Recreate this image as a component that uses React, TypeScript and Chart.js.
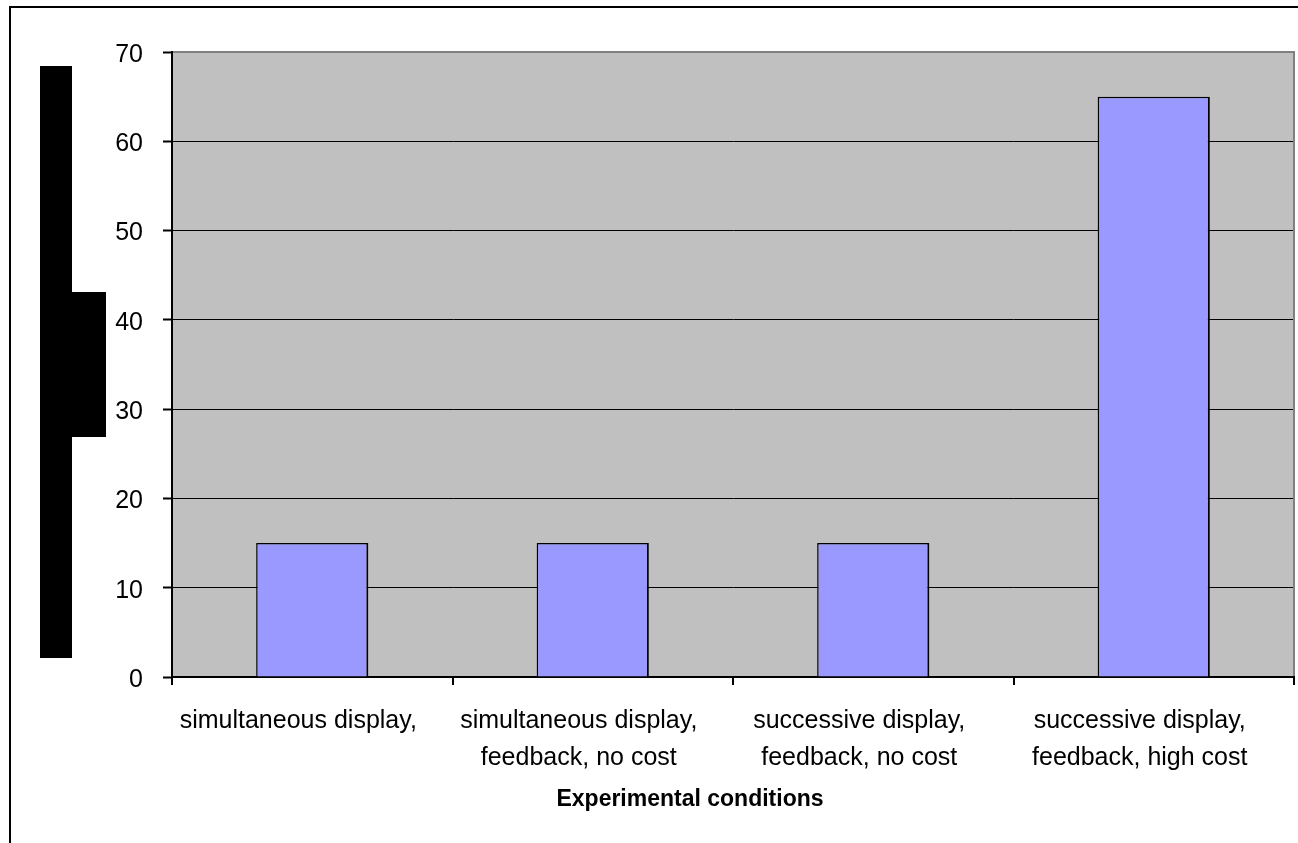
import React, { useEffect, useRef } from "react";
import { Chart, registerables } from "chart.js";

Chart.register(...registerables);

const categories: string[][] = [
  ["simultaneous display,"],
  ["simultaneous display,", "feedback, no cost"],
  ["successive display,", "feedback, no cost"],
  ["successive display,", "feedback, high cost"],
];
const values: number[] = [15, 15, 15, 65];
const yMin = 0;
const yMax = 70;
const yStep = 10;
const xTitle = "Experimental conditions";

const FONT = "'Liberation Sans', Arial, sans-serif";

const decor = {
  id: "decor",
  beforeDraw(chart: any) {
    const { ctx, chartArea: a } = chart;
    ctx.save();
    ctx.fillStyle = "#ffffff";
    ctx.fillRect(0, 0, chart.width, chart.height);
    ctx.fillStyle = "#C0C0C0";
    ctx.fillRect(a.left, a.top, a.right - a.left, a.bottom - a.top);
    // outer frame (top and left visible)
    ctx.strokeStyle = "#000000";
    ctx.lineWidth = 2;
    ctx.strokeRect(10, 7, chart.width + 20, chart.height + 20);
    // y-axis title rendered as a black block in the reference
    ctx.fillStyle = "#000000";
    ctx.fillRect(40, 66, 32, 592);
    ctx.fillRect(72, 292, 34, 145);
    ctx.restore();
  },
  afterDatasetsDraw(chart: any) {
    const { ctx, chartArea: a } = chart;
    ctx.save();
    ctx.strokeStyle = "#808080";
    ctx.lineWidth = 2;
    ctx.beginPath();
    ctx.moveTo(a.left + 1, a.top);
    ctx.lineTo(a.right, a.top);
    ctx.lineTo(a.right, a.bottom - 1);
    ctx.stroke();
    ctx.restore();
  },
  afterDraw(chart: any) {
    const { ctx, chartArea: a } = chart;
    ctx.save();
    ctx.fillStyle = "#000000";
    ctx.font = `bold 23px ${FONT}`;
    ctx.textAlign = "center";
    ctx.textBaseline = "middle";
    ctx.fillText(xTitle, (a.left + a.right) / 2 - 43, 800);
    ctx.restore();
  },
};

export default function App() {
  const ref = useRef<HTMLCanvasElement | null>(null);
  useEffect(() => {
    if (!ref.current) return;
    const chart = new Chart(ref.current, {
      type: "bar",
      data: {
        labels: categories,
        datasets: [
          {
            data: values,
            backgroundColor: "#9999FF",
            borderColor: "#000000",
            borderWidth: { top: 1.5, left: 1.5, right: 2, bottom: 0 } as any,
            borderSkipped: "bottom",
            categoryPercentage: 1,
            barPercentage: 0.4,
          },
        ],
      },
      options: {
        animation: false,
        responsive: false,
        devicePixelRatio: 1,
        layout: { padding: { left: 0, top: 52, right: 4, bottom: 0 } },
        plugins: {
          legend: { display: false },
          tooltip: { enabled: false },
          title: { display: false },
        },
        scales: {
          x: {
            z: 1,
            offset: true,
            afterFit(scale: any) {
              scale.height = 166;
            },
            grid: {
              offset: true,
              display: true,
              drawOnChartArea: false,
              drawTicks: true,
              tickLength: 8,
              color: "#000000",
              lineWidth: 2,
            },
            border: { display: true, color: "#000000", width: 2 },
            ticks: {
              color: "#000000",
              autoSkip: false,
              maxRotation: 0,
              minRotation: 0,
              padding: 18,
              labelOffset: -14,
              font: { family: FONT, size: 25, lineHeight: 1.47 },
            },
            title: { display: false },
          },
          y: {
            min: yMin,
            max: yMax,
            afterFit(scale: any) {
              scale.width = 172;
            },
            grid: {
              color: "#000000",
              lineWidth: 1,
              drawTicks: true,
              tickLength: 9,
              tickColor: "#000000",
              tickWidth: 2,
            },
            border: { display: true, color: "#000000", width: 2 },
            ticks: {
              stepSize: yStep,
              color: "#000000",
              padding: 20,
              labelOffset: 3,
              font: { family: FONT, size: 25 },
            },
          },
        },
      },
      plugins: [decor],
    });
    return () => chart.destroy();
  }, []);
  return (
    <div style={{ position: "fixed", left: 0, top: 0, width: 1298, height: 843, background: "#fff" }}>
      <canvas ref={ref} width={1298} height={843} style={{ display: "block" }} />
    </div>
  );
}
